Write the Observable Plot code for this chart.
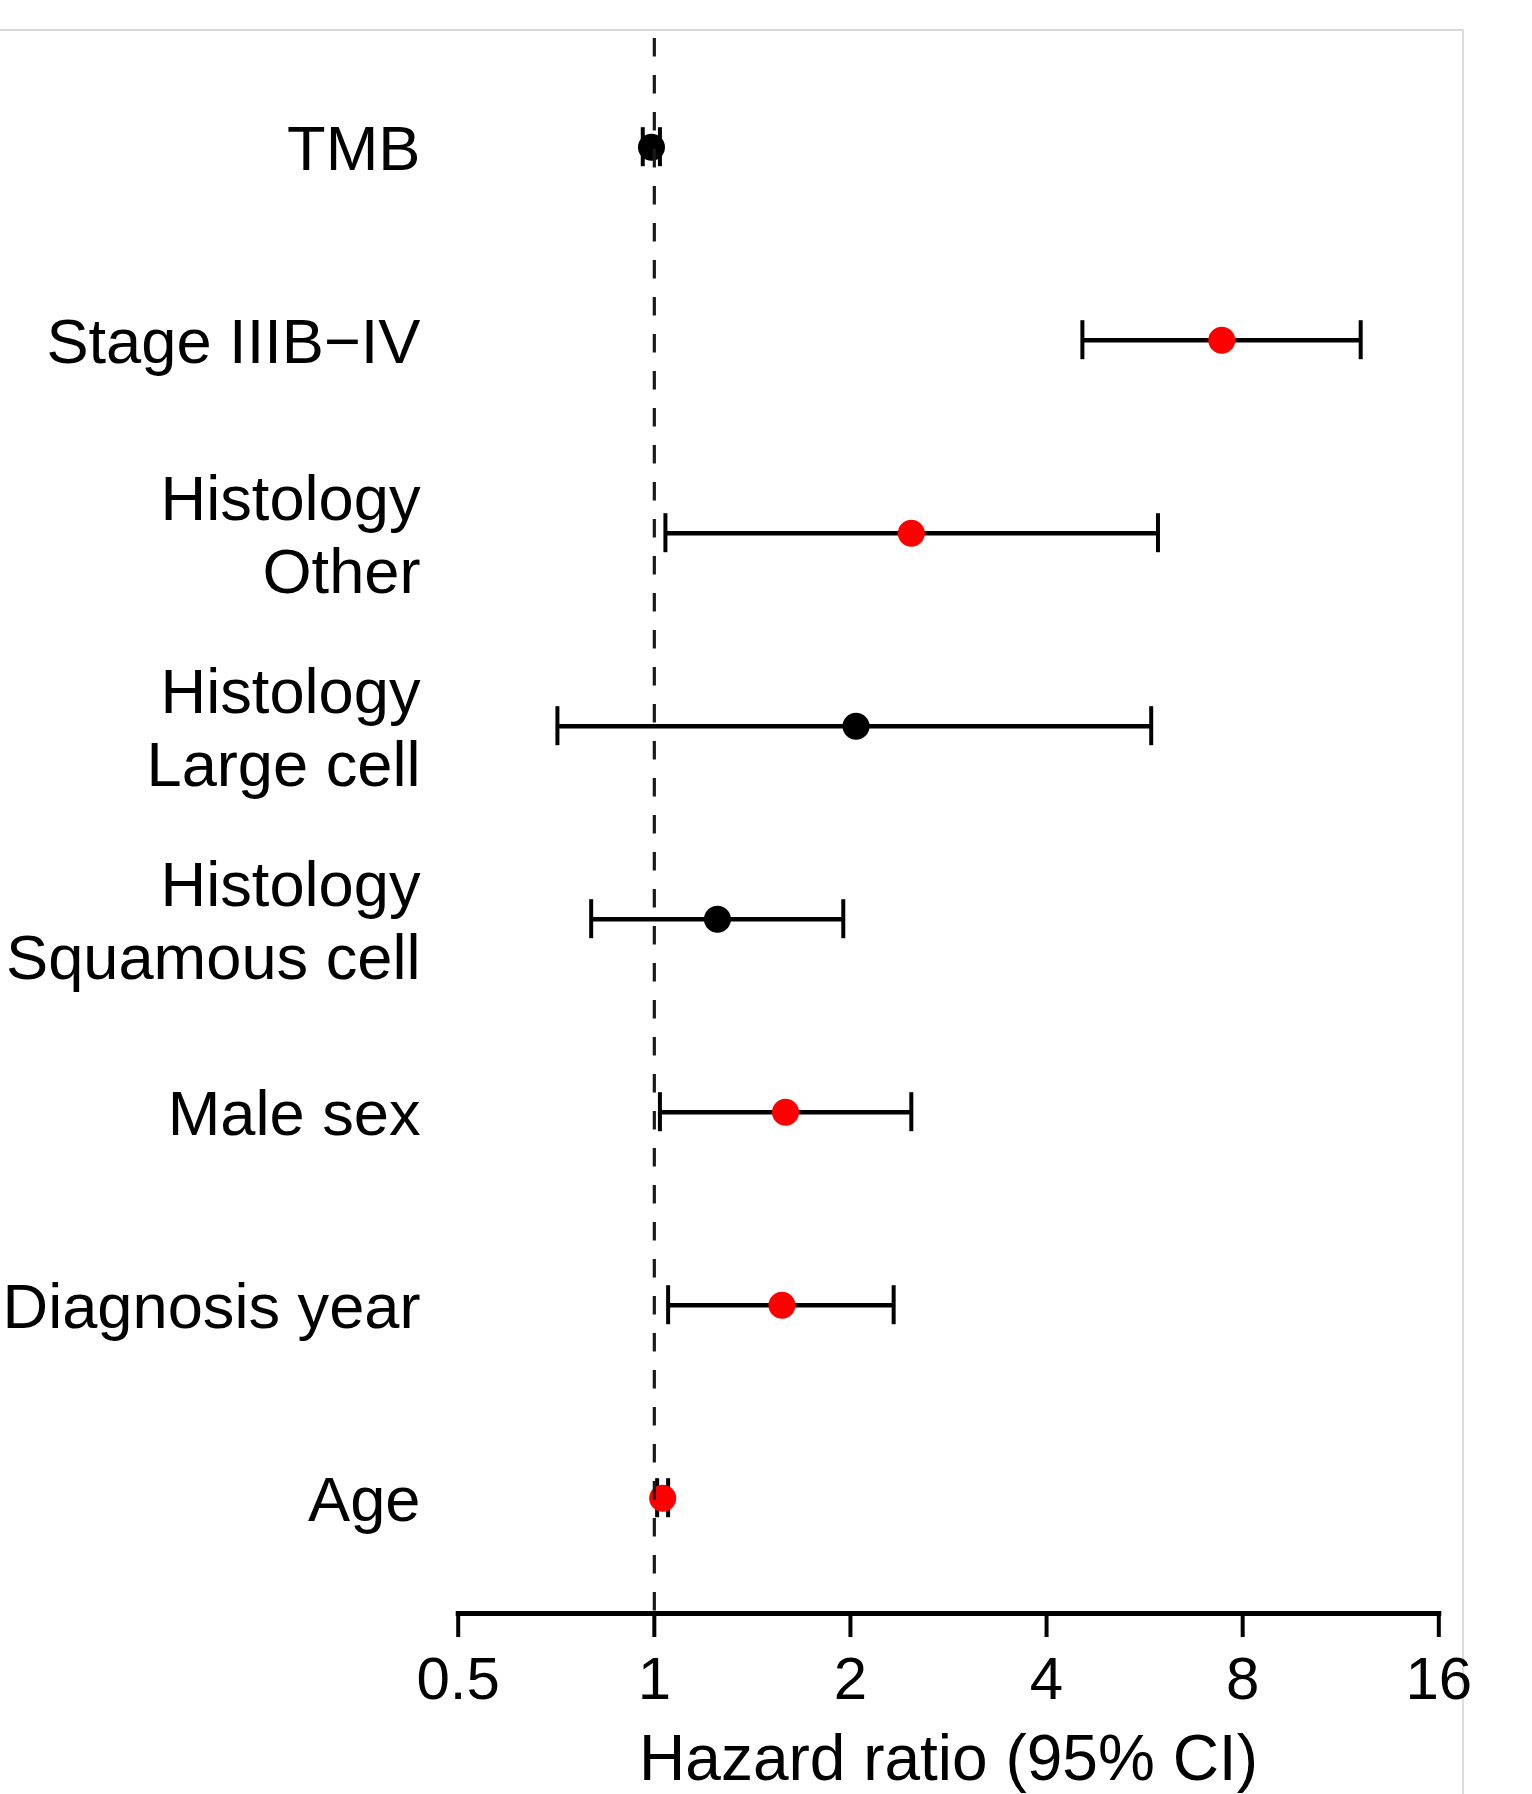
<!DOCTYPE html>
<html>
<head>
<meta charset="utf-8">
<script src="https://cdn.jsdelivr.net/npm/d3@7"></script>
<script src="https://cdn.jsdelivr.net/npm/@observablehq/plot@0.6"></script>
<style>
  html, body { margin: 0; padding: 0; background: white; }
  #wrap { position: relative; width: 1532px; height: 1794px; overflow: hidden; }
  #panel { position: absolute; left: 0; top: 29px; width: 1464px; height: 1800px;
           border-top: 2px solid #d9d9d9; border-right: 2px solid #dcdcdc; box-sizing: border-box; }
  #chart { position: absolute; left: 0; top: 0; }
</style>
</head>
<body>
<div id="wrap"><div id="panel"></div><div id="chart"></div></div>
<script>
// Data
const labels = ["TMB", "Stage IIIB\u2212IV", "Histology\nOther", "Histology\nLarge cell",
                "Histology\nSquamous cell", "Male sex", "Diagnosis year", "Age"];
const hazardRatio = [0.99, 7.43, 2.48, 2.04, 1.25, 1.59, 1.57, 1.03];
const ciLower     = [0.96, 4.54, 1.04, 0.71, 0.80, 1.02, 1.05, 1.01];
const ciUpper     = [1.02, 12.14, 5.93, 5.79, 1.95, 2.48, 2.33, 1.05];
const significant = [false, true, true, false, false, true, true, true];
const xTicks = [0.5, 1, 2, 4, 8, 16];
const xLabel = "Hazard ratio (95% CI)";

const rows = labels.map((label, i) => ({
  label, hr: hazardRatio[i], lo: ciLower[i], hi: ciUpper[i],
  color: significant[i] ? "#ff0000" : "#000000"
}));

const W = 1532, H = 1794;
const mL = 457.7, mR = 93.7, mT = 38, mB = 181;
const step = 193;
const firstCenter = 146.7;

const chart = Plot.plot({
  width: W,
  height: H,
  marginLeft: mL,
  marginRight: mR,
  marginTop: mT,
  marginBottom: mB,
  style: { fontFamily: "'Liberation Sans', Arial, sans-serif", color: "black", background: "transparent" },
  x: { type: "log", base: 2, domain: [0.5, 16] },
  y: { type: "band", domain: labels, range: [firstCenter - step / 2, firstCenter - step / 2 + step * labels.length], padding: 0, round: false },
  color: { type: "identity" },
  marks: [
    Plot.ruleY(rows, { y: "label", x1: "lo", x2: "hi", stroke: "black", strokeWidth: 4.5 }),
    Plot.tickX(rows, { x: "lo", y: "label", stroke: "black", strokeWidth: 4, insetTop: 77, insetBottom: 77 }),
    Plot.tickX(rows, { x: "hi", y: "label", stroke: "black", strokeWidth: 4, insetTop: 77, insetBottom: 77 }),
    Plot.dot(rows, { x: "hr", y: "label", r: 13.5, fill: "color", stroke: null }),
    Plot.ruleX([1], { stroke: "#1a1a1a", strokeWidth: 3.2, strokeDasharray: "18.5,18.5" }),
    Plot.frame({ anchor: "bottom", stroke: "black", strokeWidth: 5 }),
    Plot.axisX({ ticks: xTicks, tickFormat: d => String(d), tickSize: 24, tickPadding: 19,
                 fontSize: 60, strokeWidth: 4, stroke: "black", fill: "black", label: null }),
    Plot.axisY({ tickSize: 0, tickPadding: 37.7, fontSize: 63.2, lineHeight: 1.15, fill: "black", label: null }),
    Plot.text([xLabel], { text: d => d, frameAnchor: "bottom", dy: 121, lineAnchor: "top", fontSize: 64, fill: "black" })
  ]
});
document.getElementById("chart").appendChild(chart);
</script>
</body>
</html>
